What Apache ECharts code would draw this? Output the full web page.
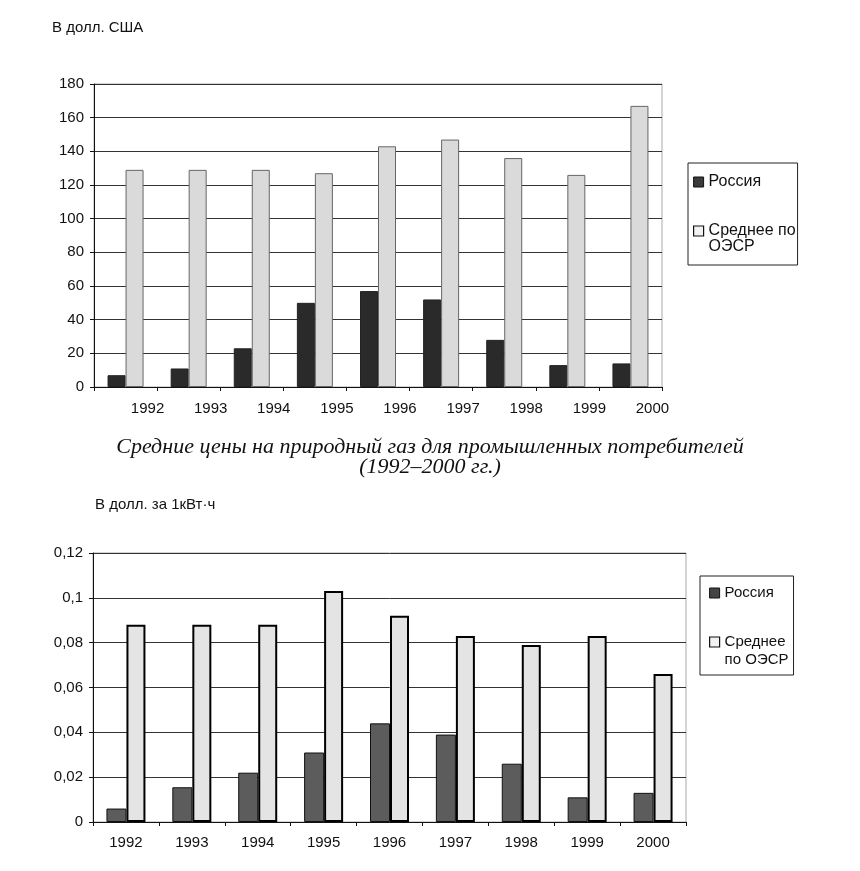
<!DOCTYPE html>
<html>
<head>
<meta charset="utf-8">
<script src="https://cdn.jsdelivr.net/npm/echarts@6/dist/echarts.min.js"></script>
<style>
html,body{margin:0;padding:0;background:#fff;}
#c{width:860px;height:871px;}
</style>
</head>
<body>
<div id="c"></div>
<script>
// ---- data ----
const years = ['1992', '1993', '1994', '1995', '1996', '1997', '1998', '1999', '2000'];
const gasRussia = [7, 11, 23, 50, 57, 52, 28, 13, 14];
const gasOECD = [129, 129, 129, 127, 143, 147, 136, 126, 167];
const elecRussia = [0.006, 0.0155, 0.022, 0.031, 0.044, 0.039, 0.026, 0.011, 0.013];
const elecOECD = [0.088, 0.088, 0.088, 0.103, 0.092, 0.083, 0.079, 0.083, 0.066];
const seriesNames = ['Россия', 'Среднее по ОЭСР'];
const topLegendLabels = ['Россия', '\nСреднее по\nОЭСР'];
const bottomLegendLabels = ['Россия', '\nСреднее\nпо ОЭСР'];
const unitTop = 'В долл. США';
const unitBottom = 'В долл. за 1кВт·ч';
const caption = 'Средние цены на природный газ для промышленных потребителей\n(1992–2000 гг.)';

// ---- styles ----
const SANS = 'Liberation Sans, Arial, sans-serif';
const SERIF = 'Liberation Serif, Times New Roman, serif';
const txt = { fontFamily: SANS, fontSize: 15, color: '#111', fontWeight: 'normal' };

const chart = echarts.init(document.getElementById('c'), null, { renderer: 'canvas' });

function yAxisCommon(gridIndex) {
  return {
    gridIndex: gridIndex,
    type: 'value',
    axisLine: { show: true, lineStyle: { color: '#111', width: 1 } },
    axisTick: { show: true, length: 4, inside: false, lineStyle: { color: '#111' } },
    splitLine: { show: true, lineStyle: { color: '#333', width: 1 } },
    axisLabel: Object.assign({ margin: 10 }, txt)
  };
}
function xAxisCommon(gridIndex) {
  return {
    gridIndex: gridIndex,
    type: 'category',
    data: years,
    axisLine: { show: true, onZero: false, lineStyle: { color: '#111', width: 1 } },
    axisTick: { show: true, length: 4, lineStyle: { color: '#111' } },
    splitLine: { show: false },
    axisLabel: Object.assign({ interval: 0 }, txt)
  };
}

const x0 = xAxisCommon(0);
x0.axisLabel.margin = 14;
x0.axisLabel.padding = [0, 0, 0, 44];
const x1 = xAxisCommon(1);
x1.axisLabel.margin = 13;

const y0 = yAxisCommon(0);
Object.assign(y0, { min: 0, max: 180, interval: 20 });
const y1 = yAxisCommon(1);
Object.assign(y1, { min: 0, max: 0.12, interval: 0.02 });
y1.axisLabel.formatter = function (v) { return String(+v.toFixed(2)).replace('.', ','); };

function legendCfg(labels, pos, pad, gap, lh, fs, rusStyle) {
  return {
    orient: 'vertical',
    left: pos[0], top: pos[1],
    padding: pad,
    itemGap: gap,
    itemWidth: 10, itemHeight: 10,
    icon: 'rect',
    borderColor: '#222', borderWidth: 1,
    backgroundColor: '#fff',
    selectedMode: false,
    textStyle: Object.assign({}, txt, { fontSize: fs, lineHeight: lh }),
    formatter: function (name) { return labels[seriesNames.indexOf(name)]; },
    data: [
      { name: seriesNames[0], itemStyle: rusStyle },
      { name: seriesNames[1],
        itemStyle: { color: '#f2f2f2', borderColor: '#111', borderWidth: 1.2 } }
    ]
  };
}

const option = {
  backgroundColor: '#fff',
  animation: false,
  title: [
    { text: unitTop, left: 47, top: 15, textStyle: txt },
    { text: unitBottom, left: 90, top: 492, textStyle: txt }
  ],
  graphic: [
    { type: 'text', x: 430, y: 437, silent: true,
      style: { text: caption, align: 'center', verticalAlign: 'top',
        fontFamily: SERIF, fontStyle: 'italic', fontSize: 22, lineHeight: 20, fill: '#111' } }
  ],
  legend: [
    legendCfg(topLegendLabels, [688, 163], [11, 2, 10, 5], 17, 16, 16,
      { color: '#3a3a3a', borderColor: '#111', borderWidth: 1 }),
    legendCfg(bottomLegendLabels, [700, 576], [8, 5, 6, 9], 13, 18, 15,
      { color: '#444', borderColor: '#111', borderWidth: 1 })
  ],
  grid: [
    { left: 94, top: 84, width: 568, height: 303, show: true, borderColor: '#aaa', borderWidth: 1, backgroundColor: 'transparent' },
    { left: 93, top: 553, width: 593, height: 269, show: true, borderColor: '#aaa', borderWidth: 1, backgroundColor: 'transparent' }
  ],
  xAxis: [x0, x1],
  yAxis: [y0, y1],
  series: [
    { name: seriesNames[0], type: 'bar', xAxisIndex: 0, yAxisIndex: 0, data: gasRussia,
      barWidth: 18, barGap: '0%',
      itemStyle: { color: '#2a2a2a', borderColor: '#222', borderWidth: 1 } },
    { name: seriesNames[1], type: 'bar', xAxisIndex: 0, yAxisIndex: 0, data: gasOECD,
      barWidth: 18, barGap: '0%',
      itemStyle: { color: '#dadada', borderColor: '#666', borderWidth: 1 } },
    { name: seriesNames[0], type: 'bar', xAxisIndex: 1, yAxisIndex: 1, data: elecRussia,
      barWidth: 20, barGap: '0%',
      itemStyle: { color: '#5c5c5c', borderColor: '#111', borderWidth: 1 } },
    { name: seriesNames[1], type: 'bar', xAxisIndex: 1, yAxisIndex: 1, data: elecOECD,
      barWidth: 19, barGap: '0%',
      itemStyle: { color: '#e4e4e4', borderColor: '#000', borderWidth: 2 } }
  ]
};
chart.setOption(option);
</script>
</body>
</html>
